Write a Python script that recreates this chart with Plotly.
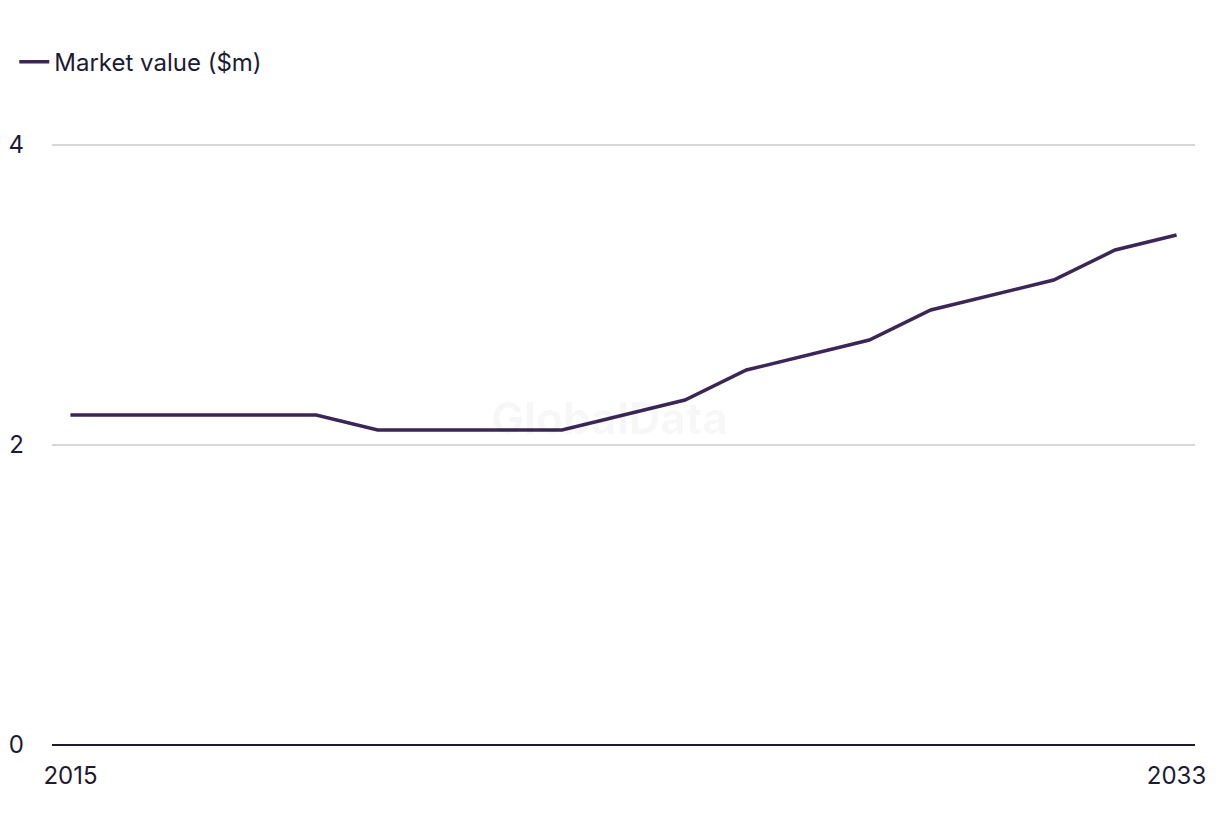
import plotly.graph_objects as go

years = list(range(2015, 2034))
market_value = [2.2, 2.2, 2.2, 2.2, 2.2, 2.1, 2.1, 2.1, 2.1, 2.2,
                2.3, 2.5, 2.6, 2.7, 2.9, 3.0, 3.1, 3.3, 3.4]
y_ticks = [0, 2, 4]
x_ticks = [2015, 2033]
series_name = "Market value ($m)"

TEXT = "#1c1b33"
LINE = "#3b2559"
FONT = "Inter, Roboto, Arial, sans-serif"

fig = go.Figure()
fig.add_trace(go.Scatter(
    x=years, y=market_value, mode="lines", name=series_name,
    line=dict(color=LINE, width=3.5),
))

fig.add_annotation(
    text="<b>GlobalData</b>", x=0.488, y=0.538, xref="paper", yref="paper",
    showarrow=False, font=dict(family=FONT, size=44, color="rgba(0,0,0,0.035)"),
)

fig.update_layout(
    width=1220, height=836,
    margin=dict(l=52, r=25, t=137, b=91, autoexpand=False),
    paper_bgcolor="white", plot_bgcolor="white",
    font=dict(family=FONT, color=TEXT, size=24),
    showlegend=True,
    legend=dict(
        orientation="h", x=-0.033, y=1.123, xanchor="left", yanchor="middle",
        font=dict(size=24, color=TEXT), bgcolor="rgba(0,0,0,0)",
    ),
    xaxis=dict(
        range=[2014.7, 2033.3], tickvals=x_ticks, ticktext=[str(v) for v in x_ticks],
        showgrid=False, zeroline=False, showline=False, ticks="",
        tickfont=dict(size=24, color=TEXT), ticklabelstandoff=14, automargin=False,
    ),
    yaxis=dict(
        range=[0, 4.0533], tickvals=y_ticks, showgrid=True, gridcolor="#d6d6db", gridwidth=1.5,
        zeroline=True, zerolinecolor=TEXT, zerolinewidth=2,
        showline=False, ticks="", tickfont=dict(size=24, color=TEXT),
        ticklabelstandoff=27, automargin=False,
    ),
)

fig.write_html("out.html")
